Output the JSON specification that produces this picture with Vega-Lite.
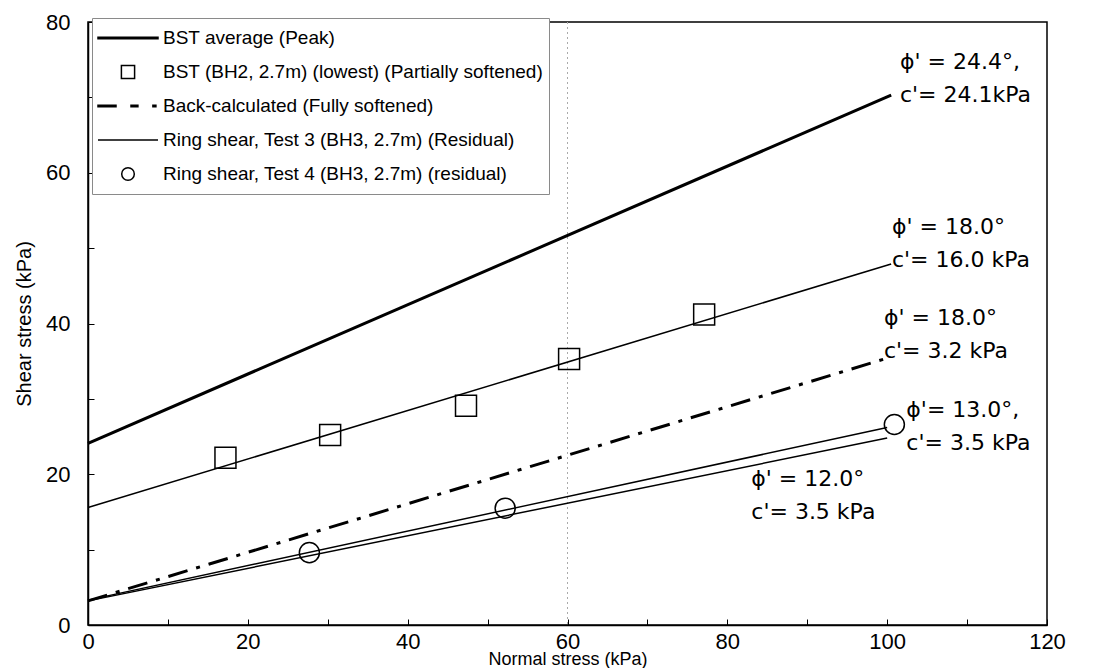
{
  "$schema": "https://vega.github.io/schema/vega-lite/v6.json",
  "width": 959,
  "height": 603,
  "autosize": {"type": "none"},
  "padding": {"left": 88, "top": 22, "right": 48, "bottom": 43},
  "background": "white",
  "config": {
    "font": "Liberation Sans",
    "view": {"stroke": "black", "strokeWidth": 1.5},
    "axis": {
      "grid": false,
      "domainColor": "black",
      "domainWidth": 1.5,
      "tickColor": "black",
      "tickWidth": 1,
      "tickSize": -6,
      "labelFont": "Liberation Sans",
      "labelFontSize": 22,
      "labelColor": "black",
      "titleFont": "Liberation Sans",
      "titleFontSize": 19,
      "titleFontWeight": "normal",
      "titleColor": "black"
    }
  },
  "datasets": {
    "lines": [
      {"line": "peak", "x": 0, "y": 24.1},
      {"line": "peak", "x": 100.5, "y": 70.3},
      {"line": "partial", "x": 0, "y": 15.6},
      {"line": "partial", "x": 100.5, "y": 47.9},
      {"line": "back", "x": 0, "y": 3.2},
      {"line": "back", "x": 100, "y": 35.4},
      {"line": "test3", "x": 0, "y": 3.2},
      {"line": "test3", "x": 100, "y": 24.8},
      {"line": "test4", "x": 0, "y": 3.3},
      {"line": "test4", "x": 100, "y": 26.2}
    ],
    "points": [
      {"series": "BST (BH2, 2.7m) (lowest) (Partially softened)", "x": 17.2, "y": 22.2},
      {"series": "BST (BH2, 2.7m) (lowest) (Partially softened)", "x": 30.3, "y": 25.2},
      {"series": "BST (BH2, 2.7m) (lowest) (Partially softened)", "x": 47.3, "y": 29.1},
      {"series": "BST (BH2, 2.7m) (lowest) (Partially softened)", "x": 60.2, "y": 35.3},
      {"series": "BST (BH2, 2.7m) (lowest) (Partially softened)", "x": 77.1, "y": 41.2},
      {"series": "Ring shear, Test 4 (BH3, 2.7m) (residual)", "x": 27.7, "y": 9.6},
      {"series": "Ring shear, Test 4 (BH3, 2.7m) (residual)", "x": 52.2, "y": 15.5},
      {"series": "Ring shear, Test 4 (BH3, 2.7m) (residual)", "x": 100.9, "y": 26.6}
    ],
    "labels": [
      {"x": 101.6, "y": 74.7, "text": "ϕ' = 24.4°,\nc'= 24.1kPa"},
      {"x": 100.6, "y": 52.8, "text": "ϕ' = 18.0°\nc'= 16.0 kPa"},
      {"x": 99.6, "y": 40.7, "text": "ϕ' = 18.0°\nc'= 3.2 kPa"},
      {"x": 102.4, "y": 28.5, "text": "ϕ'= 13.0°,\nc'= 3.5 kPa"},
      {"x": 83.0, "y": 19.4, "text": "ϕ' = 12.0°\nc'= 3.5 kPa"}
    ],
    "grid": [{"x": 60}]
  },
  "layer": [
    {
      "data": {"name": "grid"},
      "mark": {"type": "rule", "color": "#aaaaaa", "strokeDash": [2, 3], "strokeWidth": 1},
      "encoding": {
        "x": {"field": "x", "type": "quantitative", "scale": {"domain": [0, 120]}}
      }
    },
    {
      "data": {"name": "lines"},
      "transform": [{"filter": "datum.line == 'peak'"}],
      "mark": {"type": "line", "color": "black", "strokeWidth": 3},
      "encoding": {
        "x": {"field": "x", "type": "quantitative"},
        "y": {"field": "y", "type": "quantitative"}
      }
    },
    {
      "data": {"name": "lines"},
      "transform": [{"filter": "datum.line == 'partial'"}],
      "mark": {"type": "line", "color": "black", "strokeWidth": 1.5},
      "encoding": {
        "x": {"field": "x", "type": "quantitative"},
        "y": {"field": "y", "type": "quantitative"}
      }
    },
    {
      "data": {"name": "lines"},
      "transform": [{"filter": "datum.line == 'back'"}],
      "mark": {"type": "line", "color": "black", "strokeWidth": 3, "strokeDash": [20, 9, 4, 9]},
      "encoding": {
        "x": {"field": "x", "type": "quantitative"},
        "y": {"field": "y", "type": "quantitative"}
      }
    },
    {
      "data": {"name": "lines"},
      "transform": [{"filter": "datum.line == 'test3'"}],
      "mark": {"type": "line", "color": "black", "strokeWidth": 1.5},
      "encoding": {
        "x": {"field": "x", "type": "quantitative"},
        "y": {"field": "y", "type": "quantitative"}
      }
    },
    {
      "data": {"name": "lines"},
      "transform": [{"filter": "datum.line == 'test4'"}],
      "mark": {"type": "line", "color": "black", "strokeWidth": 1.5},
      "encoding": {
        "x": {"field": "x", "type": "quantitative"},
        "y": {"field": "y", "type": "quantitative"}
      }
    },
    {
      "data": {"name": "points"},
      "mark": {"type": "point", "filled": false, "color": "black", "strokeWidth": 1.5, "size": 9100, "opacity": 1},
      "encoding": {
        "x": {
          "field": "x", "type": "quantitative",
          "scale": {"domain": [0, 120], "nice": false},
          "axis": {"values": [0, 10, 20, 30, 40, 50, 60, 70, 80, 90, 100, 110, 120], "labelExpr": "datum.value % 20 == 0 ? datum.label : ''", "labelPadding": 12, "title": "Normal stress (kPa)", "titleFontSize": 18, "titlePadding": -2, "labelFlush": false}
        },
        "y": {
          "field": "y", "type": "quantitative",
          "scale": {"domain": [0, 80], "nice": false},
          "axis": {"values": [0, 10, 20, 30, 40, 50, 60, 70, 80], "labelExpr": "datum.value % 20 == 0 ? datum.label : ''", "labelPadding": 24, "title": "Shear stress (kPa)", "titleFontSize": 20, "titlePadding": 11, "labelFlush": false}
        },
        "shape": {
          "field": "series", "type": "nominal",
          "scale": {
            "domain": ["BST average (Peak)", "BST (BH2, 2.7m) (lowest) (Partially softened)", "Back-calculated (Fully softened)", "Ring shear, Test 3 (BH3, 2.7m) (Residual)", "Ring shear, Test 4 (BH3, 2.7m) (residual)"],
            "range": [
              "M-1,-0.025H1V0.025H-1Z",
              "M-0.22,-0.22H0.22V0.22H-0.22Z",
              "M-1,-0.025H-0.4V0.025H-1ZM0.1,-0.025H0.33V0.025H0.1ZM0.83,-0.025H0.93V0.025H0.83Z",
              "M-1,0H1",
              "M-0.21,0A0.21,0.21,0,1,1,0.21,0A0.21,0.21,0,1,1,-0.21,0Z"
            ]
          },
          "legend": {
            "title": null,
            "orient": "none",
            "legendX": 4,
            "legendY": -4,
            "padding": 5,
            "strokeColor": "#8a8a8a",
            "fillColor": "white",
            "labelFont": "Liberation Sans",
            "labelFontSize": 19,
            "labelColor": "black",
            "labelLimit": 600,
            "symbolSize": 3600,
            "symbolStrokeColor": "black",
            "symbolFillColor": "transparent",
            "symbolStrokeWidth": 1.5,
            "labelOffset": 4,
            "clipHeight": 30,
            "rowPadding": 4
          }
        }
      }
    },
    {
      "data": {"name": "labels"},
      "mark": {"type": "text", "align": "left", "baseline": "middle", "fontSize": 22, "font": "DejaVu Sans", "color": "black", "lineBreak": "\n", "lineHeight": 33},
      "encoding": {
        "x": {"field": "x", "type": "quantitative"},
        "y": {"field": "y", "type": "quantitative"},
        "text": {"field": "text"}
      }
    }
  ]
}
